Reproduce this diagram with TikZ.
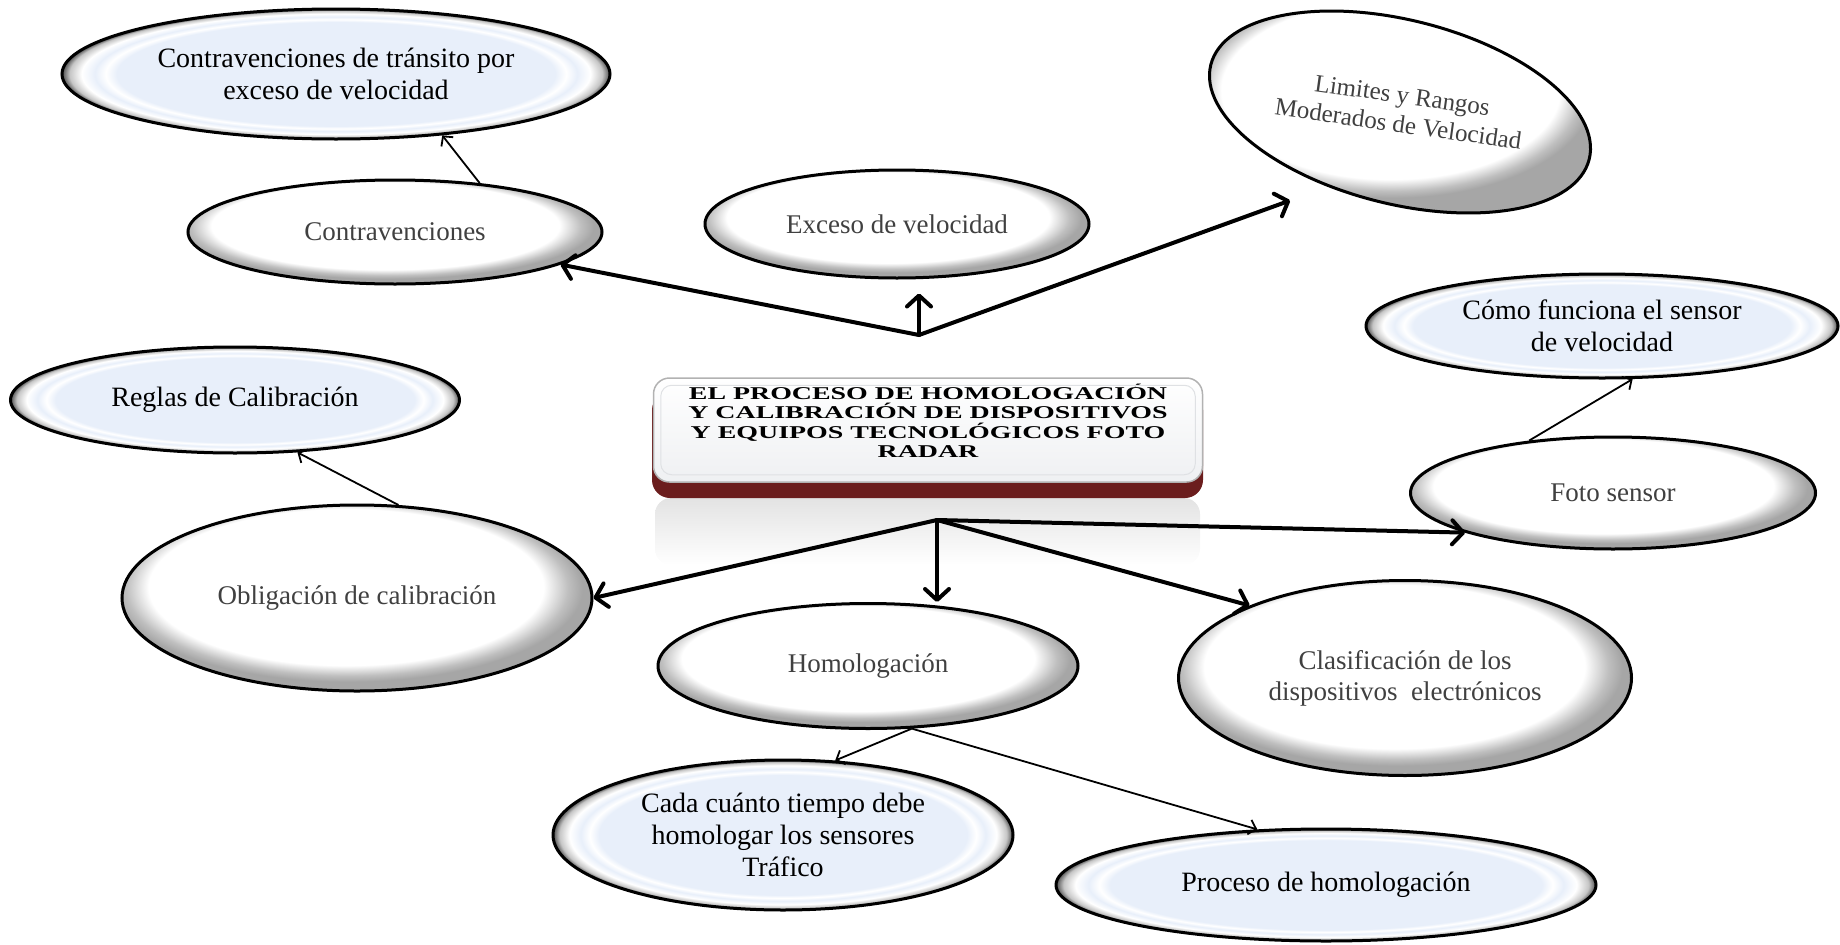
\documentclass[tikz,border=0pt]{standalone}
\usepackage{fontspec}
\setmainfont{Liberation Serif}
\newfontfamily\titlefont[FakeStretch=1.55]{Liberation Serif}
\usetikzlibrary{shapes.geometric,arrows.meta,calc}
\definecolor{bubblue}{HTML}{E8EFFA}
\definecolor{boxshadow}{HTML}{6B1D1D}
\pgfdeclareradialshading{bluebubble}{\pgfpoint{0bp}{0bp}}{color(0bp)=(bubblue); color(20bp)=(bubblue); color(21bp)=(white); color(22bp)=(bubblue); color(23.2bp)=(white); color(24.3bp)=(gray!45); color(25bp)=(black!70); color(50bp)=(black!70)}
\pgfdeclareradialshading{whitebubble}{\pgfpoint{-2bp}{5bp}}{color(0bp)=(white); color(21bp)=(white); color(23.5bp)=(gray!50); color(25bp)=(gray!70); color(50bp)=(gray!70)}

\begin{document}
\begin{tikzpicture}[x=1pt,y=-1pt,
    bluebub/.style={ellipse, draw=black, line width=3pt, shading=bluebubble,
      inner sep=0pt, align=center, font=\fontsize{28}{32}\selectfont},
    whitebub/.style={ellipse, draw=black, line width=3pt, shading=whitebubble,
      inner sep=0pt, align=center, text=black!75, font=\fontsize{27}{31}\selectfont},
    link/.style={->, line width=4pt, line cap=round},
    sublink/.style={-{Straight Barb[length=7pt,width=15pt]}, line width=1.8pt},
    >={Straight Barb[length=11pt,width=24pt,round]}]
    \useasboundingbox (0,0) rectangle (1840,945);
    \shade[top color=gray!22, bottom color=white, rounded corners=16pt] (655,498) rectangle (1200,565);
    \fill[boxshadow, rounded corners=18pt] (652,392) rectangle (1203,498);
    \node[rectangle, rounded corners=16pt, draw=gray!60, line width=1.5pt, top color=white,
      bottom color=bubblue!70!gray!30, minimum width=549pt, minimum height=104pt, inner xsep=4pt,
      inner ysep=1pt, text depth=18pt, font=\titlefont\bfseries\fontsize{18}{19.5}\selectfont,
      align=center] (title) at (928,430)
      {EL PROCESO DE HOMOLOGACIÓN\\Y CALIBRACIÓN DE DISPOSITIVOS\\Y EQUIPOS TECNOLÓGICOS FOTO\\RADAR};
    \draw[rounded corners=11pt, draw=bubblue!60!gray!50, line width=1pt]
      ($(title.south west)+(8,-8)$) rectangle ($(title.north east)+(-8,8)$);

    \node[bluebub, minimum width=548pt, minimum height=130pt] (ctrA) at (336,74) {Contravenciones de tránsito por\\exceso de velocidad};
    \node[whitebub, minimum width=414pt, minimum height=104pt] (contra) at (395,232) {Contravenciones};
    \node[whitebub, minimum width=384pt, minimum height=108pt] (exceso) at (897,224) {Exceso de velocidad};
    \node[whitebub, minimum width=390pt, minimum height=184pt, rotate=-14,
      font=\fontsize{25}{29}\selectfont] (limites) at (1400,112)
      {\rotatebox{6}{\begin{tabular}{@{}c@{}}Limites y Rangos\\Moderados de Velocidad\end{tabular}}};
    \node[bluebub, minimum width=472pt, minimum height=104pt] (como) at (1602,326) {Cómo funciona el sensor\\de velocidad};
    \node[whitebub, minimum width=405pt, minimum height=112pt] (foto) at (1613,493) {Foto sensor};
    \node[bluebub, minimum width=449pt, minimum height=106pt] (reglas) at (235,400) {Reglas de Calibración};
    \node[whitebub, minimum width=470pt, minimum height=186pt] (oblig) at (357,598) {Obligación de calibración};
    \node[whitebub, minimum width=420pt, minimum height=125pt] (homolog) at (868,666) {Homologación};
    \node[whitebub, minimum width=453pt, minimum height=195pt] (clasif) at (1405,678) {Clasificación de los\\dispositivos\ \ electrónicos};
    \node[bluebub, minimum width=460pt, minimum height=150pt] (cada) at (783,835) {Cada cuánto tiempo debe\\homologar los sensores\\Tráfico};
    \node[bluebub, minimum width=540pt, minimum height=112pt] (proceso) at (1326,885) {Proceso de homologación};

    \coordinate (hubtop) at (919,335);
    \coordinate (hubbot) at (937,520);
    \draw[link] (hubtop) -- (contra);
    \draw[link, shorten >=14pt] (hubtop) -- (hubtop |- exceso.south);
    \draw[link, shorten >=40pt] (hubtop) -- (limites.-120);
    \draw[link] (hubbot) -- (oblig.east);
    \draw[link] (hubbot) -- (hubbot |- homolog.north);
    \draw[link] (hubbot) -- (clasif.155);
    \draw[link] (hubbot) -- (foto.195);
    \draw[sublink] (contra.30) -- (ctrA.-30);
    \draw[sublink] (oblig.66) -- (reglas.-40);
    \draw[sublink] (foto.148) -- (como.-60);
    \draw[sublink] (homolog.-55) -- (cada.55);
    \draw[sublink] (homolog.-55) -- (proceso.141);
\end{tikzpicture}
\end{document}
